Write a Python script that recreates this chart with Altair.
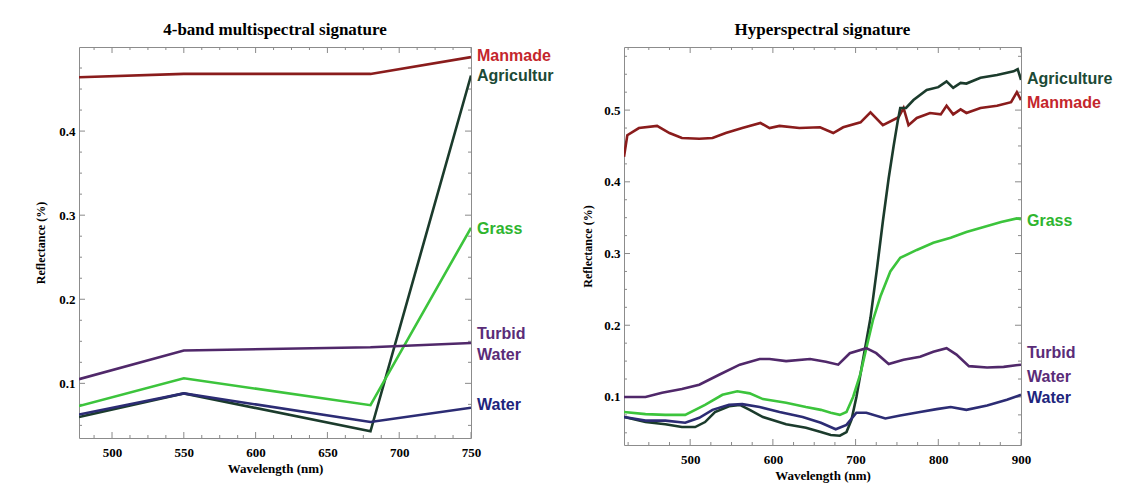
import altair as alt
import pandas as pd

# ---------------- data ----------------
SERIES = ["Manmade", "Agriculture", "Grass", "Turbid Water", "Water"]
LINE_COLORS = ["#8a1c1c", "#1b3b2c", "#3cc43c", "#50286a", "#2c2c74"]

# 4-band multispectral signature
MS_WL = [477, 550, 680, 750]
MS_MANMADE = [0.464, 0.468, 0.468, 0.488]
MS_AGRI = [0.060, 0.088, 0.043, 0.466]
MS_GRASS = [0.073, 0.106, 0.074, 0.285]
MS_TURBID = [0.105, 0.139, 0.143, 0.148]
MS_WATER = [0.063, 0.088, 0.054, 0.071]

# Hyperspectral signature
HS_MANMADE_WL = [420, 424, 438, 460, 475, 490, 511, 527, 543, 563, 585, 596, 608, 632, 657,
                 673, 685, 706, 718, 733, 752, 758, 764, 774, 790, 803, 810, 818, 827, 834,
                 851, 871, 888, 895, 900]
HS_MANMADE = [0.435, 0.465, 0.475, 0.478, 0.468, 0.461, 0.460, 0.461, 0.468, 0.475, 0.482,
              0.475, 0.478, 0.475, 0.476, 0.468, 0.476, 0.483, 0.497, 0.479, 0.490, 0.503,
              0.479, 0.489, 0.496, 0.494, 0.506, 0.494, 0.501, 0.496, 0.503, 0.506, 0.511,
              0.525, 0.514]
HS_AGRI_WL = [420, 446, 470, 490, 506, 518, 530, 547, 560, 572, 588, 616, 640, 658, 670, 681,
              689, 695, 701, 709, 718, 726, 733, 740, 746, 751, 754, 761, 770, 786, 800, 810,
              818, 827, 834, 851, 871, 891, 896, 900]
HS_AGRI = [0.072, 0.065, 0.062, 0.058, 0.058, 0.065, 0.079, 0.087, 0.089, 0.082, 0.072, 0.062,
           0.057, 0.051, 0.047, 0.046, 0.051, 0.068, 0.100, 0.152, 0.210, 0.280, 0.345, 0.405,
           0.450, 0.485, 0.503, 0.503, 0.514, 0.528, 0.532, 0.540, 0.531, 0.538, 0.537, 0.545,
           0.549, 0.554, 0.557, 0.542]
HS_GRASS_WL = [420, 446, 470, 494, 518, 539, 557, 572, 588, 616, 640, 658, 670, 681, 689, 697,
               706, 713, 721, 730, 742, 754, 774, 794, 815, 834, 855, 876, 895, 900]
HS_GRASS = [0.079, 0.076, 0.075, 0.075, 0.089, 0.103, 0.108, 0.105, 0.097, 0.092, 0.086, 0.082,
            0.078, 0.075, 0.079, 0.100, 0.133, 0.168, 0.207, 0.240, 0.275, 0.294, 0.305, 0.315,
            0.322, 0.330, 0.337, 0.344, 0.349, 0.348]
HS_TURBID_WL = [420, 446, 466, 490, 511, 535, 560, 584, 596, 616, 645, 664, 679, 693, 713, 725,
                740, 758, 778, 794, 810, 822, 837, 859, 879, 900]
HS_TURBID = [0.100, 0.100, 0.106, 0.111, 0.117, 0.131, 0.145, 0.153, 0.153, 0.150, 0.153, 0.149,
             0.145, 0.161, 0.168, 0.161, 0.146, 0.152, 0.156, 0.163, 0.168, 0.159, 0.143, 0.141,
             0.142, 0.145]
HS_WATER_WL = [420, 446, 470, 494, 511, 527, 547, 563, 584, 608, 636, 658, 676, 689, 701, 713,
               736, 754, 778, 798, 815, 834, 859, 883, 900]
HS_WATER = [0.072, 0.067, 0.067, 0.064, 0.071, 0.082, 0.089, 0.090, 0.086, 0.079, 0.072, 0.064,
            0.055, 0.061, 0.078, 0.078, 0.070, 0.074, 0.079, 0.083, 0.086, 0.082, 0.088, 0.096,
            0.103]

# end labels (text, reflectance level, colour)
MS_LABELS = ["Manmade", "Agricultur", "Grass", "Turbid", "Water", "Water"]
MS_LABEL_Y = [0.489, 0.465, 0.284, 0.159, 0.134, 0.074]
HS_LABELS = ["Agriculture", "Manmade", "Grass", "Turbid", "Water", "Water"]
HS_LABEL_Y = [0.543, 0.510, 0.345, 0.161, 0.128, 0.099]
MS_LABEL_COLORS = ["#c4262c", "#1c4a36", "#2fb52f", "#5a2c78", "#5a2c78", "#20247c"]
HS_LABEL_COLORS = ["#1c4a36", "#c4262c", "#2fb52f", "#5a2c78", "#5a2c78", "#20247c"]

# axis ticks
MS_X_TICKS = [500, 550, 600, 650, 700, 750]
HS_X_TICKS = [500, 600, 700, 800, 900]
MS_Y_TICKS = [0.1, 0.2, 0.3, 0.4]
HS_Y_TICKS = [0.1, 0.2, 0.3, 0.4, 0.5]
MS_X_MINOR = [487.5, 512.5, 525, 537.5, 562.5, 575, 587.5, 612.5, 625, 637.5, 662.5, 675,
              687.5, 712.5, 725, 737.5]
HS_X_MINOR = [425, 450, 475, 525, 550, 575, 625, 650, 675, 725, 750, 775, 825, 850, 875]
MS_Y_MINOR = [0.05, 0.075, 0.125, 0.15, 0.175, 0.225, 0.25, 0.275, 0.325, 0.35, 0.375,
              0.425, 0.45, 0.475]
HS_Y_MINOR = [0.05, 0.075, 0.125, 0.15, 0.175, 0.225, 0.25, 0.275, 0.325, 0.35, 0.375,
              0.425, 0.45, 0.475, 0.525, 0.55, 0.575]


def long_df(pairs):
    rows = []
    for name, wl, vals in pairs:
        for w, v in zip(wl, vals):
            rows.append({"series": name, "wl": w, "refl": v})
    return pd.DataFrame(rows)


ms_df = long_df([
    ("Manmade", MS_WL, MS_MANMADE), ("Agriculture", MS_WL, MS_AGRI),
    ("Grass", MS_WL, MS_GRASS), ("Turbid Water", MS_WL, MS_TURBID),
    ("Water", MS_WL, MS_WATER)])
hs_df = long_df([
    ("Manmade", HS_MANMADE_WL, HS_MANMADE), ("Agriculture", HS_AGRI_WL, HS_AGRI),
    ("Grass", HS_GRASS_WL, HS_GRASS), ("Turbid Water", HS_TURBID_WL, HS_TURBID),
    ("Water", HS_WATER_WL, HS_WATER)])

SERIF = "Liberation Serif"
SANS = "Liberation Sans"
TICK_COLOR = "#8a8a8a"


def panel(df, labels, label_y, label_colors, title, xdom, ydom, xt, yt, xm, ym,
          W, H, ytitle_pad):
    xs = alt.Scale(domain=xdom, nice=False, zero=False)
    ys = alt.Scale(domain=ydom, nice=False, zero=False)
    xaxis = alt.Axis(values=xt, format="d", tickSize=0, domain=False, grid=False,
                     labelPadding=8, labelFont=SERIF, labelFontWeight="bold",
                     labelFontSize=13, labelColor="black", title="Wavelength (nm)",
                     titleFont=SERIF, titleFontWeight="bold", titleFontSize=13,
                     titleColor="black", titlePadding=3, labelFlush=False)
    yaxis = alt.Axis(values=yt, format=".1f", tickSize=0, domain=False, grid=False,
                     labelPadding=4, labelFont=SERIF, labelFontWeight="bold",
                     labelFontSize=13, labelColor="black", title="Reflectance (%)",
                     titleFont=SERIF, titleFontWeight="bold", titleFontSize=12,
                     titleColor="black", titlePadding=ytitle_pad)
    X = lambda f: alt.X(f, type="quantitative", scale=xs, axis=xaxis)
    Y = lambda f: alt.Y(f, type="quantitative", scale=ys, axis=yaxis)

    lines = alt.Chart(df).mark_line(strokeWidth=2.6, clip=True).encode(
        x=X("wl"), y=Y("refl"),
        color=alt.Color("series:N", scale=alt.Scale(domain=SERIES, range=LINE_COLORS),
                        legend=None),
        detail="series:N")

    lab_df = pd.DataFrame({"label": labels, "refl": label_y, "col": label_colors})
    text = alt.Chart(lab_df).mark_text(align="left", baseline="middle", font=SANS,
                                       fontWeight="bold", fontSize=16, dx=6).encode(
        x=alt.value(W), y=Y("refl"), text="label:N",
        color=alt.Color("col:N", scale=None))

    xmaj = pd.DataFrame({"wl": xt})
    xmin = pd.DataFrame({"wl": xm})
    ymaj = pd.DataFrame({"refl": yt})
    ymin = pd.DataFrame({"refl": ym})
    layers = []
    for d, ln in ((xmaj, 6), (xmin, 3)):
        base = alt.Chart(d).mark_rule(color=TICK_COLOR, strokeWidth=1)
        layers.append(base.encode(x=X("wl"), y=alt.value(0), y2=alt.value(ln)))
        layers.append(base.encode(x=X("wl"), y=alt.value(H), y2=alt.value(H - ln)))
    for d, ln in ((ymaj, 6), (ymin, 3)):
        base = alt.Chart(d).mark_rule(color=TICK_COLOR, strokeWidth=1)
        layers.append(base.encode(y=Y("refl"), x=alt.value(0), x2=alt.value(ln)))
        layers.append(base.encode(y=Y("refl"), x=alt.value(W), x2=alt.value(W - ln)))

    return alt.layer(*layers, lines, text).properties(
        width=W, height=H,
        title=alt.TitleParams(text=title, font=SERIF, fontWeight="bold", fontSize=17,
                              color="black", anchor="middle", offset=8))


left = panel(ms_df, MS_LABELS, MS_LABEL_Y, MS_LABEL_COLORS, "4-band multispectral signature",
             [477, 750], [0.035, 0.5], MS_X_TICKS, MS_Y_TICKS, MS_X_MINOR, MS_Y_MINOR,
             392, 391, 11)
right = panel(hs_df, HS_LABELS, HS_LABEL_Y, HS_LABEL_COLORS, "Hyperspectral signature",
              [420, 900], [0.033, 0.588], HS_X_TICKS, HS_Y_TICKS, HS_X_MINOR, HS_Y_MINOR,
              397, 398, 9)

chart = alt.hconcat(left, right, spacing=27).properties(
    padding={"left": 26, "top": 12, "right": 0, "bottom": 0},
    background="white",
).configure_view(stroke="#8c8c8c", strokeWidth=1)

chart.save("out.html", embed_options={"renderer": "svg", "actions": False})
